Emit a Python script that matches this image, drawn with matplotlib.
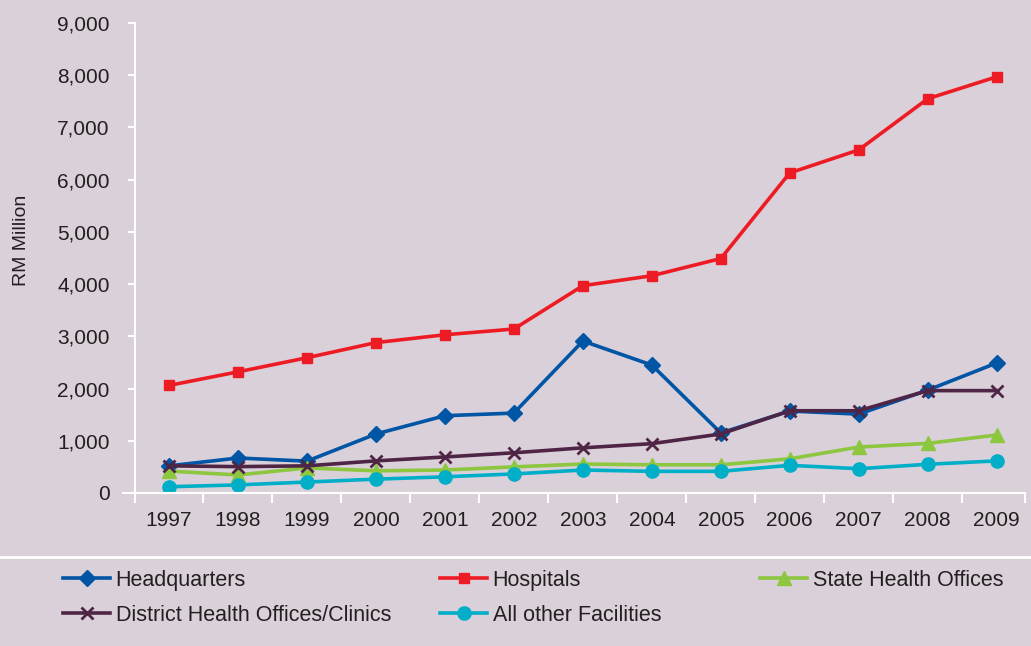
import numpy as np
from matplotlib import pyplot as plt
from matplotlib.lines import Line2D

years = ['1997', '1998', '1999', '2000', '2001', '2002', '2003',
         '2004', '2005', '2006', '2007', '2008', '2009']
headquarters = [520, 670, 610, 1130, 1480, 1530, 2910, 2450, 1150, 1570, 1510, 1970, 2490]
hospitals = [2060, 2320, 2590, 2880, 3030, 3140, 3970, 4160, 4490, 6130, 6570, 7550, 7970]
state_offices = [420, 345, 480, 425, 440, 500, 555, 540, 540, 655, 880, 950, 1110]
district_offices = [520, 505, 520, 615, 690, 770, 865, 945, 1130, 1575, 1575, 1960, 1960]
other_facilities = [120, 155, 210, 265, 310, 365, 440, 415, 415, 530, 465, 550, 615]

bg = '#dad0d9'
txt = '#231f20'
plt.rcParams['font.family'] = ['Liberation Sans', 'DejaVu Sans']

fig = plt.figure(figsize=(10.31, 6.46), dpi=100, facecolor=bg)
ax = fig.add_axes([123 / 1031, 153 / 646, (1025 - 123) / 1031, 470 / 646])
ax.set_facecolor(bg)

x = np.arange(len(years))
lw = 2.6
l_hq, = ax.plot(x, headquarters, color='#0055a5', lw=lw, marker='D', ms=8, label='Headquarters')
l_hos, = ax.plot(x, hospitals, color='#ed1c24', lw=lw, marker='s', ms=7.5, label='Hospitals')
l_st, = ax.plot(x, state_offices, color='#8dc63f', lw=lw, marker='^', ms=9.5, label='State Health Offices')
l_oth, = ax.plot(x, other_facilities, color='#00aec7', lw=lw, marker='o', ms=9.5, label='All other Facilities')
l_dis, = ax.plot(x, district_offices, color='#4f2545', lw=lw, marker='x', ms=8, mew=2,
                 label='District Health Offices/Clinics')

ax.set_xlim(-0.667, 12.41)
ax.set_ylim(0, 9000)
ax.set_yticks(np.arange(0, 9001, 1000))
ax.set_yticklabels(['{:,}'.format(v) for v in range(0, 9001, 1000)])
ax.set_xticks(x)
ax.set_xticklabels(years)
ax.set_xticks(list(np.arange(-0.5, 12, 1.0)) + [12.41], minor=True)
ax.tick_params(axis='x', which='major', length=0, pad=13, labelsize=15, labelcolor=txt)
ax.tick_params(axis='x', which='minor', length=7, width=1.5, color='white')
ax.tick_params(axis='y', length=5, width=1.5, color='white', labelsize=15, labelcolor=txt, pad=13)

for s in ['top', 'right']:
    ax.spines[s].set_visible(False)
ax.spines['left'].set_position(('data', -0.5))
ax.spines['left'].set_color('white')
ax.spines['left'].set_linewidth(1.5)
ax.spines['bottom'].set_color('white')
ax.spines['bottom'].set_linewidth(1.5)

ax.set_ylabel('RM Million', fontsize=14, color=txt, labelpad=0)
ax.yaxis.set_label_coords((30 - 123) / (1025 - 123), (493 - 240) / 470)

fig.add_artist(Line2D([0, 1], [1 - 557 / 646, 1 - 557 / 646], color='white', lw=2,
                      transform=fig.transFigure))

leg_kw = dict(frameon=False, fontsize=15.5, handlelength=2.2, handletextpad=0.25,
              labelspacing=0.65, borderaxespad=0, borderpad=0, labelcolor=txt)
cols = [([l_hq, l_dis], 63), ([l_hos, l_oth], 440), ([l_st], 760)]
for handles, px in cols:
    fig.legend(handles=handles, labels=[h.get_label() for h in handles],
               loc='upper left', bbox_to_anchor=(px / 1031, 1 - 570 / 646), **leg_kw)

fig.savefig('out.png', dpi=100, facecolor=bg)
